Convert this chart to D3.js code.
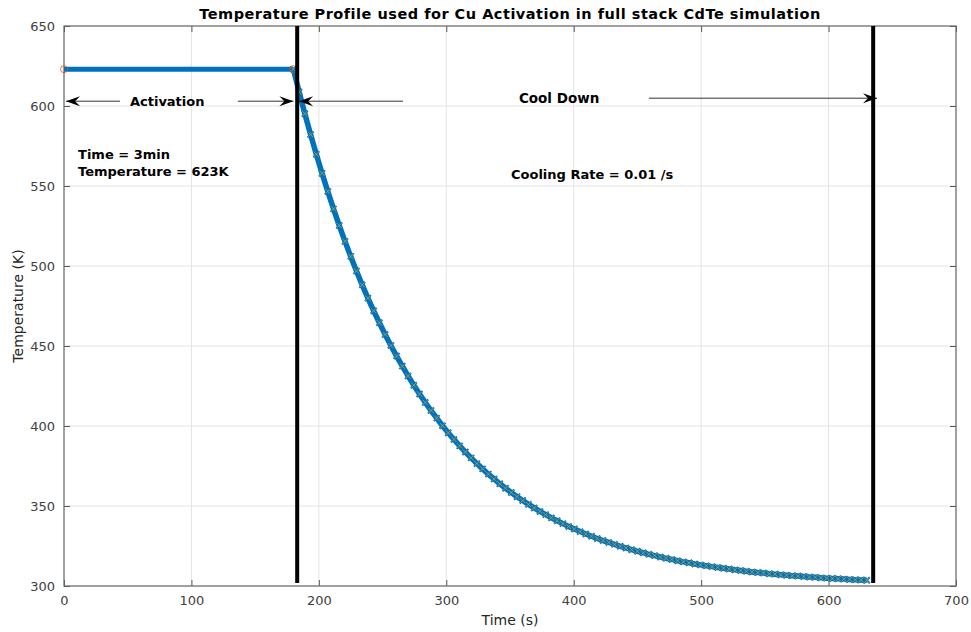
<!DOCTYPE html>
<html>
<head>
<meta charset="utf-8">
<script src="https://cdn.jsdelivr.net/npm/d3@7"></script>
<style>
  body { margin: 0; background: #fff; }
  text { font-family: "DejaVu Sans", sans-serif; }
</style>
</head>
<body>
<div id="chart"></div>
<script>
// activation step (flat)
const actTimes = [0, 180];
const actTemps = [623, 623];

// cool down readings
const coolTimes = [180, 184.5, 189, 193.5, 198, 202.5, 207, 211.5, 216, 220.5,
  225, 229.5, 234, 238.5, 243, 247.5, 252, 256.5, 261, 265.5,
  270, 274.5, 279, 283.5, 288, 292.5, 297, 301.5, 306, 310.5,
  315, 319.5, 324, 328.5, 333, 337.5, 342, 346.5, 351, 355.5,
  360, 364.5, 369, 373.5, 378, 382.5, 387, 391.5, 396, 400.5,
  405, 409.5, 414, 418.5, 423, 427.5, 432, 436.5, 441, 445.5,
  450, 454.5, 459, 463.5, 468, 472.5, 477, 481.5, 486, 490.5,
  495, 499.5, 504, 508.5, 513, 517.5, 522, 526.5, 531, 535.5,
  540, 544.5, 549, 553.5, 558, 562.5, 567, 571.5, 576, 580.5,
  585, 589.5, 594, 598.5, 603, 607.5, 612, 616.5, 621, 625.5, 630];
const coolTemps = [623.0, 608.8, 595.2, 582.2, 569.8, 557.9, 546.6, 535.7, 525.3, 515.4,
  506.0, 496.9, 488.2, 479.9, 472.0, 464.5, 457.2, 450.3, 443.7, 437.4,
  431.3, 425.5, 420.0, 414.7, 409.7, 404.9, 400.2, 395.8, 391.6, 387.6,
  383.7, 380.1, 376.5, 373.2, 369.9, 366.9, 363.9, 361.1, 358.4, 355.8,
  353.4, 351.0, 348.8, 346.6, 344.6, 342.6, 340.8, 339.0, 337.2, 335.6,
  334.0, 332.5, 331.1, 329.7, 328.4, 327.2, 326.0, 324.8, 323.8, 322.7,
  321.7, 320.8, 319.8, 319.0, 318.1, 317.3, 316.6, 315.8, 315.1, 314.5,
  313.8, 313.2, 312.7, 312.1, 311.6, 311.1, 310.6, 310.1, 309.7, 309.2,
  308.8, 308.4, 308.1, 307.7, 307.4, 307.0, 306.7, 306.4, 306.2, 305.9,
  305.6, 305.4, 305.1, 304.9, 304.7, 304.5, 304.3, 304.1, 303.9, 303.8, 303.6];

// phase boundaries (vertical black lines)
const boundaries = [183, 635];

const xTicks = [0, 100, 200, 300, 400, 500, 600, 700];
const yTicks = [300, 350, 400, 450, 500, 550, 600, 650];

const width = 971;
const height = 632;
const plotLeft = 64, plotRight = 956, plotTop = 26, plotBottom = 586;

const svg = d3.select("#chart")
  .append("svg")
  .attr("width", width)
  .attr("height", height);

const x = d3.scaleLinear().domain([0, 700]).range([plotLeft, plotRight]);
const y = d3.scaleLinear().domain([300, 650]).range([plotBottom, plotTop]);

// grid
svg.append("g")
  .selectAll("line")
  .data(xTicks)
  .enter().append("line")
  .attr("x1", d => x(d)).attr("x2", d => x(d))
  .attr("y1", plotTop).attr("y2", plotBottom)
  .attr("stroke", "#e3e3e3").attr("stroke-width", 1);
svg.append("g")
  .selectAll("line")
  .data(yTicks)
  .enter().append("line")
  .attr("x1", plotLeft).attr("x2", plotRight)
  .attr("y1", d => y(d)).attr("y2", d => y(d))
  .attr("stroke", "#e3e3e3").attr("stroke-width", 1);

// axes (ticks inward, like matlab)
function styleAxis(g) {
  g.select(".domain").remove();
  g.selectAll(".tick line").attr("stroke", "#555");
  g.selectAll(".tick text")
    .attr("fill", "#404040")
    .style("font-size", "13px")
    .style("font-family", "DejaVu Sans, sans-serif");
}
svg.append("g")
  .attr("transform", `translate(0,${plotBottom})`)
  .call(d3.axisBottom(x).tickValues(xTicks).tickSizeInner(-6).tickSizeOuter(0).tickPadding(10))
  .call(styleAxis);
svg.append("g")
  .attr("transform", `translate(${plotLeft},0)`)
  .call(d3.axisLeft(y).tickValues(yTicks).tickSizeInner(-6).tickSizeOuter(0).tickPadding(9))
  .call(styleAxis);
svg.append("g")
  .attr("transform", `translate(0,${plotTop})`)
  .call(d3.axisTop(x).tickValues(xTicks).tickSizeInner(-6).tickSizeOuter(0).tickFormat(""))
  .call(styleAxis);
svg.append("g")
  .attr("transform", `translate(${plotRight},0)`)
  .call(d3.axisRight(y).tickValues(yTicks).tickSizeInner(-6).tickSizeOuter(0).tickFormat(""))
  .call(styleAxis);

svg.append("rect")
  .attr("x", plotLeft).attr("y", plotTop)
  .attr("width", plotRight - plotLeft).attr("height", plotBottom - plotTop)
  .attr("fill", "none")
  .attr("stroke", "#6b6b6b")
  .attr("stroke-width", 1.2);

// data lines
const line = d3.line().x(d => x(d[0])).y(d => y(d[1]));
const actData = actTimes.map((t, i) => [t, actTemps[i]]);
const coolData = coolTimes.map((t, i) => [t, coolTemps[i]]);

svg.append("path")
  .datum(actData)
  .attr("d", line)
  .attr("fill", "none")
  .attr("stroke", "#0072BD")
  .attr("stroke-width", 5);

svg.append("path")
  .datum(coolData)
  .attr("d", line)
  .attr("fill", "none")
  .attr("stroke", "#0072BD")
  .attr("stroke-width", 5.5);

// blue x markers thicken the curve
const xMark = (cx, cy, s) => `M${cx - s},${cy - s}L${cx + s},${cy + s}M${cx - s},${cy + s}L${cx + s},${cy - s}`;
svg.append("g")
  .selectAll("path")
  .data(coolData)
  .enter().append("path")
  .attr("d", d => xMark(x(d[0]), y(d[1]), 3))
  .attr("stroke", "#0072BD")
  .attr("stroke-width", 2)
  .attr("fill", "none");

svg.append("g")
  .selectAll("path")
  .data(coolData)
  .enter().append("path")
  .attr("d", d => xMark(x(d[0]), y(d[1]), 2.6))
  .attr("stroke", "#EDB120")
  .attr("stroke-opacity", 0.85)
  .attr("stroke-width", 0.7)
  .attr("fill", "none");

svg.append("g")
  .selectAll("circle")
  .data(actData)
  .enter().append("circle")
  .attr("cx", d => x(d[0]))
  .attr("cy", d => y(d[1]))
  .attr("r", 3.5)
  .attr("fill", "none")
  .attr("stroke", "#D95319")
  .attr("stroke-width", 0.8);

// vertical phase lines
svg.append("g")
  .selectAll("line")
  .data(boundaries)
  .enter().append("line")
  .attr("x1", d => x(d)).attr("x2", d => x(d))
  .attr("y1", y(300) - 3).attr("y2", y(650))
  .attr("stroke", "#000")
  .attr("stroke-width", 4);

// arrows
function arrowHead(px, py, dir) {
  // dir = 1 points right, -1 points left
  const L = 14, H = 5, N = 9;
  return `M${px},${py}L${px - dir * L},${py - H}L${px - dir * N},${py}L${px - dir * L},${py + H}Z`;
}
function arrow(x1, x2, py, dir) {
  svg.append("line")
    .attr("x1", x1).attr("x2", x2)
    .attr("y1", py).attr("y2", py)
    .attr("stroke", "#333").attr("stroke-width", 1);
  const tip = dir > 0 ? x2 : x1;
  svg.append("path")
    .attr("d", arrowHead(tip, py, dir))
    .attr("fill", "#000");
}
const arrowY = y(603);
arrow(x(1.6), x(44), arrowY, -1);
arrow(x(136.5), x(180), arrowY, 1);
arrow(x(184.5), x(266), arrowY, -1);
arrow(x(459), x(638), arrowY - 3, 1);

function label(txt, px, py, anchor, size) {
  svg.append("text")
    .attr("x", px).attr("y", py)
    .attr("text-anchor", anchor)
    .attr("dominant-baseline", "central")
    .style("font-size", (size || 13) + "px")
    .style("font-weight", "bold")
    .attr("fill", "#000")
    .text(txt);
}
label("Activation", x(81), arrowY, "middle");
label("Cool Down", x(357), arrowY - 3, "start", 13.5);
label("Time = 3min", x(11), y(569.4), "start");
label("Temperature = 623K", x(11), y(558.8), "start");
label("Cooling Rate = 0.01 /s", x(350.8), y(556.9), "start");

// title and axis labels
svg.append("text")
  .attr("x", (plotLeft + plotRight) / 2)
  .attr("y", 19)
  .attr("text-anchor", "middle")
  .style("font-size", "14.5px")
  .style("letter-spacing", "0.5px")
  .style("font-weight", "bold")
  .text("Temperature Profile used for Cu Activation in full stack CdTe simulation");

svg.append("text")
  .attr("x", (plotLeft + plotRight) / 2)
  .attr("y", 625)
  .attr("text-anchor", "middle")
  .attr("fill", "#262626")
  .style("font-size", "14px")
  .text("Time (s)");

svg.append("text")
  .attr("transform", "rotate(-90)")
  .attr("x", -(plotTop + plotBottom) / 2)
  .attr("y", 23)
  .attr("text-anchor", "middle")
  .attr("fill", "#262626")
  .style("font-size", "14px")
  .text("Temperature (K)");
</script>
</body>
</html>
